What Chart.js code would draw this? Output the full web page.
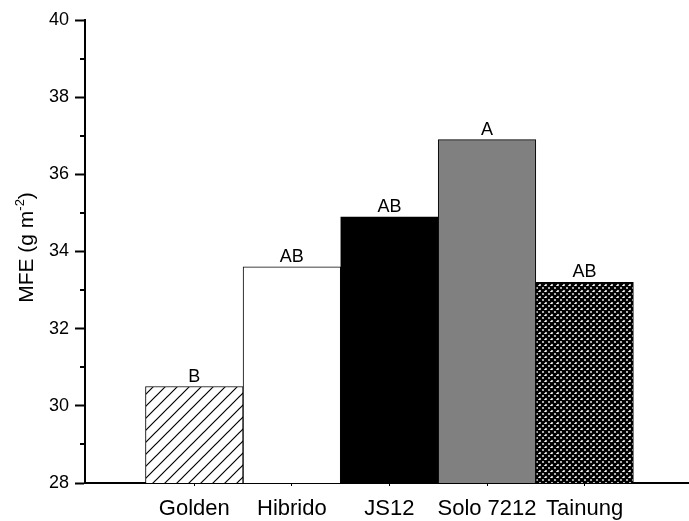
<!DOCTYPE html>
<html>
<head>
<meta charset="utf-8">
<script src="https://cdn.jsdelivr.net/npm/chart.js@4"></script>
<style>
	body { margin: 0; background: #fff; }
</style>
</head>
<body>
<canvas id="chart" width="689" height="521"></canvas>
<script>
const categories = ["Golden", "Hibrido", "JS12", "Solo 7212", "Tainung"];
const mfeValues = [30.5, 33.6, 34.9, 36.9, 33.2];
const groupLetters = ["B", "AB", "AB", "A", "AB"];
const yMinorTicks = [29, 31, 33, 35, 37, 39];

const FONT = "'Liberation Sans', Arial, sans-serif";
const canvas = document.getElementById("chart");
const ctx = canvas.getContext("2d");

// fill patterns for the bars
function diagonalHatch() {
	const tile = document.createElement("canvas");
	tile.width = 12;
	tile.height = 12;
	const g = tile.getContext("2d");
	g.fillStyle = "#fff";
	g.fillRect(0, 0, 12, 12);
	g.strokeStyle = "#000";
	g.lineWidth = 1.2;
	g.beginPath();
	g.moveTo(-1, 13);
	g.lineTo(13, -1);
	g.moveTo(-1, 1);
	g.lineTo(1, -1);
	g.moveTo(11, 13);
	g.lineTo(13, 11);
	g.stroke();
	return ctx.createPattern(tile, "repeat");
}

function crossHatch() {
	const tile = document.createElement("canvas");
	tile.width = 6;
	tile.height = 6;
	const g = tile.getContext("2d");
	g.fillStyle = "#fff";
	g.fillRect(0, 0, 6, 6);
	g.strokeStyle = "#000";
	g.lineWidth = 2.6;
	g.beginPath();
	g.moveTo(-1, 7);
	g.lineTo(7, -1);
	g.moveTo(-1, -1);
	g.lineTo(7, 7);
	g.moveTo(-1, 1);
	g.lineTo(1, -1);
	g.moveTo(5, 7);
	g.lineTo(7, 5);
	g.moveTo(5, -1);
	g.lineTo(7, 1);
	g.moveTo(-1, 5);
	g.lineTo(1, 7);
	g.stroke();
	return ctx.createPattern(tile, "repeat");
}

const barFills = [diagonalHatch(), "#ffffff", "#000000", "#808080", crossHatch()];

const extras = {
	id: "extras",
	afterDatasetsDraw(chart) {
		const c = chart.ctx;
		const meta = chart.getDatasetMeta(0);
		c.save();
		c.fillStyle = "#000";
		c.font = "18px " + FONT;
		c.textAlign = "center";
		c.textBaseline = "alphabetic";
		meta.data.forEach((bar, i) => {
			c.fillText(groupLetters[i], bar.x, bar.y - 5);
		});
		c.restore();
	},
	afterDraw(chart) {
		const c = chart.ctx;
		const y = chart.scales.y;
		const area = chart.chartArea;
		c.save();
		// minor ticks
		c.strokeStyle = "#000";
		c.lineWidth = 2;
		c.beginPath();
		yMinorTicks.forEach((v) => {
			const py = Math.round(y.getPixelForValue(v));
			c.moveTo(area.left - 5, py);
			c.lineTo(area.left, py);
		});
		c.stroke();

		// y axis title with superscript
		c.fillStyle = "#000";
		c.textBaseline = "alphabetic";
		c.textAlign = "left";
		const main = "MFE (g m";
		const sup = "-2";
		const close = ")";
		c.font = "21px " + FONT;
		const w1 = c.measureText(main).width;
		const w3 = c.measureText(close).width;
		c.font = "13px " + FONT;
		const w2 = c.measureText(sup).width;
		const total = w1 + w2 + w3;
		const mid = (area.top + area.bottom) / 2 - 4;
		c.translate(33, mid + total / 2);
		c.rotate(-Math.PI / 2);
		c.font = "21px " + FONT;
		c.fillText(main, 0, 0);
		c.font = "13px " + FONT;
		c.fillText(sup, w1, -9);
		c.font = "21px " + FONT;
		c.fillText(close, w1 + w2, 0);
		c.restore();
	},
};

new Chart(canvas, {
	type: "bar",
	data: {
		datasets: [
			{
				data: mfeValues.map((v, i) => ({ x: i + 1, y: v })),
				backgroundColor: barFills,
				borderColor: "#000",
				borderWidth: 1,
				borderSkipped: false,
				categoryPercentage: 1,
				barPercentage: 1,
			},
		],
	},
	options: {
		responsive: false,
		animation: false,
		layout: { padding: { top: 20, right: 0, left: 0, bottom: 0 } },
		plugins: { legend: { display: false }, tooltip: { enabled: false } },
		scales: {
			x: {
				type: "linear",
				offset: false,
				min: -0.12,
				max: 6.07,
				afterBuildTicks(scale) {
					scale.ticks = categories.map((c, i) => ({ value: i + 1 }));
				},
				afterFit(scale) {
					scale.height = 38;
				},
				border: { display: true, color: "#000", width: 2 },
				grid: {
					offset: false,
					drawOnChartArea: false,
					drawTicks: true,
					tickLength: 3,
					tickWidth: 1,
					tickColor: "#000",
				},
				ticks: {
					autoSkip: false,
					maxRotation: 0,
					padding: 10,
					color: "#000",
					font: { family: FONT, size: 22 },
					callback: (v) => categories[v - 1] || "",
				},
			},
			y: {
				min: 28,
				max: 40,
				afterFit(scale) {
					scale.width = 85;
				},
				border: { display: true, color: "#000", width: 2 },
				grid: {
					drawOnChartArea: false,
					drawTicks: true,
					tickLength: 10,
					tickWidth: 2,
					tickColor: "#000",
				},
				ticks: {
					stepSize: 2,
					padding: 6,
					color: "#000",
					font: { family: FONT, size: 18 },
				},
			},
		},
	},
	plugins: [extras],
});
</script>
</body>
</html>
